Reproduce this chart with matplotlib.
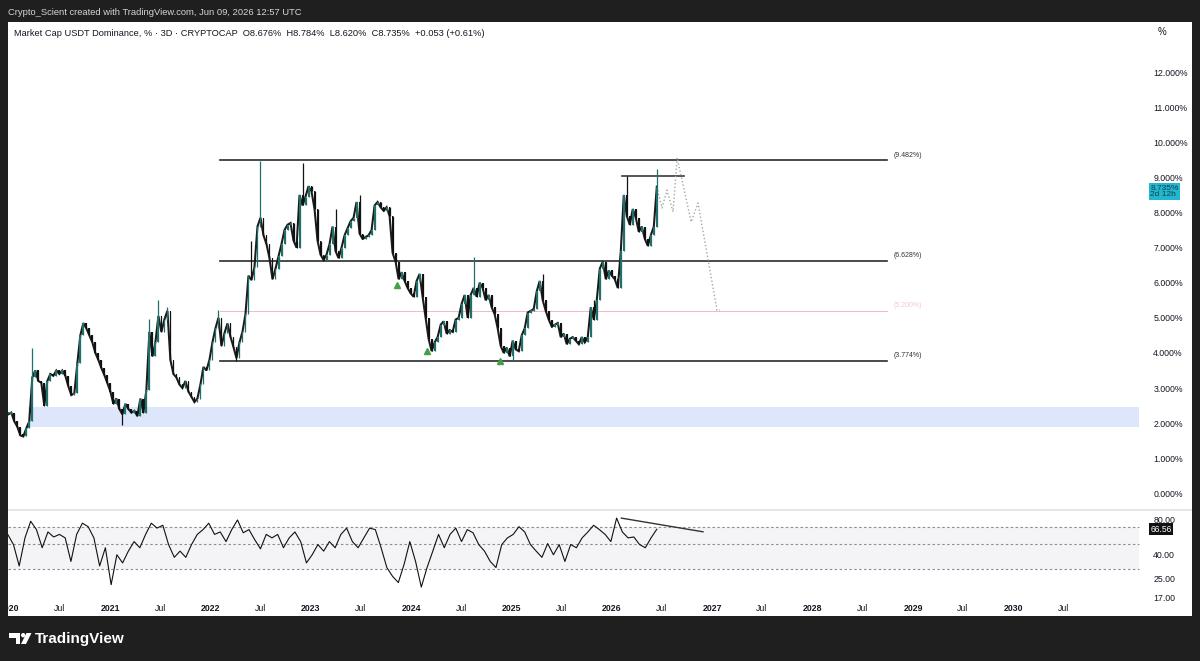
import numpy as np
import pandas as pd
import matplotlib
matplotlib.use("Agg")
import matplotlib.pyplot as plt
import matplotlib.dates as mdates
from matplotlib.patches import Rectangle, Circle, Polygon
from matplotlib.transforms import blended_transform_factory, IdentityTransform
from matplotlib.ticker import NullLocator, NullFormatter, FixedLocator, FixedFormatter

plt.rcParams['font.family'] = ['Liberation Sans', 'DejaVu Sans']

# ---------------- data ----------------
candle_start, candle_end = '2019-12-26', '2026-06-13'
close = [
    2.25, 2.3, 2.05, 1.9, 1.65, 1.62, 1.85, 2.05, 3.3, 3.5, 3.2, 3.15, 2.5, 3.2, 3.4, 3.35,
    3.5, 3.4, 3.5, 3.35, 3.05, 2.8, 2.85, 3.7, 4.5, 4.85, 4.7, 4.5, 4.3, 4.0, 3.8, 3.57,
    3.37, 3.14, 2.9, 2.55, 2.7, 2.4, 2.25, 2.55, 2.4, 2.3, 2.35, 2.2, 2.7, 2.3, 2.95, 4.6,
    3.9, 4.3, 5.05, 4.6, 4.95, 5.2, 3.8, 3.4, 3.3, 3.1, 3.0, 3.2, 2.9, 2.75, 2.6, 2.7,
    3.1, 3.6, 3.5, 3.8, 4.3, 4.7, 5.0, 4.2, 4.56, 4.84, 4.46, 4.17, 3.85, 4.3, 4.6, 5.1,
    6.2, 6.08, 6.45, 7.6, 7.85, 7.35, 7.1, 6.7, 6.1, 6.4, 6.75, 7.1, 7.5, 7.65, 7.7, 7.2,
    7.0, 8.5, 8.2, 8.45, 8.75, 8.6, 8.1, 7.2, 6.8, 6.65, 6.8, 7.1, 7.6, 6.9, 6.7, 7.0,
    7.35, 7.55, 7.75, 7.85, 8.3, 7.4, 7.25, 7.3, 7.35, 7.5, 8.2, 8.3, 8.15, 8.05, 8.15, 7.9,
    6.85, 6.6, 6.1, 6.3, 6.05, 5.85, 5.7, 5.6, 6.05, 6.25, 5.6, 5.0, 4.4, 4.05, 4.3, 4.45,
    4.8, 4.9, 4.55, 4.65, 4.6, 4.95, 5.0, 5.4, 5.65, 5.0, 5.65, 5.85, 5.6, 6.0, 5.85, 5.5,
    5.65, 5.3, 5.1, 4.7, 4.2, 4.0, 4.15, 3.9, 4.35, 4.1, 4.05, 4.5, 4.7, 5.15, 5.2, 5.25,
    5.75, 6.05, 5.5, 5.2, 4.95, 4.75, 4.8, 4.85, 4.45, 4.55, 4.25, 4.4, 4.45, 4.35, 4.25, 4.45,
    4.3, 4.45, 5.3, 4.95, 5.5, 6.4, 6.6, 6.1, 6.35, 6.2, 6.1, 5.85, 6.9, 8.5, 7.9, 7.65,
    8.1, 7.85, 7.45, 7.6, 7.25, 7.05, 7.35, 7.6, 8.735,
]
# wick extremes (date, value)
wick_dates = ['2020-03-23', '2021-02-16', '2021-05-26', '2021-06-28', '2021-07-31', '2022-02-03',
              '2022-04-10', '2022-05-24', '2022-06-26', '2022-11-27', '2023-03-28', '2023-06-24',
              '2024-08-15', '2025-01-05', '2025-04-25', '2025-10-29', '2026-02-27', '2026-06-13']
wick_values = [4.14, 1.94, 4.97, 5.5, 5.3, 5.22, 3.774, 7.2, 9.48, 9.4, 8.1, 8.5,
               6.74, 3.774, 6.25, 5.5, 9.03, 9.25]

rsi_start, rsi_end = '2019-12-24', '2026-06-13'
rsi = [60, 49, 32, 56, 78, 66, 46, 63, 57, 60, 56, 35, 60, 75, 70, 56, 32, 46, 22, 40,
       34, 43, 52, 46, 60, 75, 68, 72, 49, 38, 43, 38, 49, 60, 66, 75, 60, 63, 52, 66,
       80, 62, 66, 54, 45, 60, 56, 60, 46, 56, 63, 52, 34, 40, 49, 43, 52, 46, 60, 68,
       52, 46, 56, 68, 66, 46, 31, 26, 23, 33, 52, 35, 21, 31, 43, 60, 46, 60, 68, 52,
       66, 62, 49, 43, 35, 31, 49, 56, 60, 70, 63, 49, 43, 38, 50, 40, 49, 35, 49, 46,
       56, 63, 72, 66, 60, 52, 83, 63, 56, 57, 49, 46, 56, 66.56]

levels = [9.482, 6.628, 3.774]
level_labels = ['(9.482%)', '(6.628%)', '(3.774%)']
mid_level = 5.2
mid_label = '(5.200%)'
level_start, level_end = '2022-02-02', '2028-09-27'
zone_low, zone_high = 1.9, 2.45
zone_start, zone_end = '2020-03-08', '2031-04-04'
box_level = 9.03
box_start, box_end = '2026-02-05', '2026-09-19'
proj_dates = ['2026-06-13', '2026-07-02', '2026-07-20', '2026-08-11', '2026-08-26',
              '2026-10-16', '2026-11-10', '2027-01-18', '2027-01-29']
proj_values = [8.73, 8.13, 8.64, 8.02, 9.56, 7.73, 8.27, 5.22, 5.22]
tri_dates = ['2023-11-11', '2024-02-27', '2024-11-19']
tri_values = [5.93, 4.05, 3.78]
rsi_trend_dates = ['2026-02-04', '2026-11-28']
rsi_trend_values = [83, 63.2]
price_ticks = list(range(0, 13))
rsi_ticks = [80, 40, 25, 17]
last_value = 8.735
last_rsi = 66.56

title_text = ("Market Cap USDT Dominance, % \u00b7 3D \u00b7 CRYPTOCAP  O8.676%  H8.784%  "
              "L8.620%  C8.735%  +0.053 (+0.61%)")
header_text = "Crypto_Scient created with TradingView.com, Jun 09, 2026 12:57 UTC"

# ---------------- figure ----------------
W, H = 1200, 661
fig = plt.figure(figsize=(12, 6.61), dpi=100, facecolor='white')

def fx(px):
    return px / W

def fy(py):
    return 1 - py / H

ax = fig.add_axes([fx(8), fy(508), fx(1132), (508 - 22) / H])
ax2 = fig.add_axes([fx(8), fy(598), fx(1132), (598 - 511) / H], sharex=ax)
for a in (ax, ax2):
    a.set_facecolor('white')
    for s in a.spines.values():
        s.set_visible(False)

TEAL = '#1f6f6b'
DARK = '#111111'
TXT = '#131722'

# candles
dates = pd.date_range(candle_start, candle_end, periods=len(close))
xd = mdates.date2num(dates)
c = np.array(close, dtype=float)
o = np.r_[c[0], c[:-1]]
hi = np.maximum(o, c)
lo = np.minimum(o, c)
for d, v in zip(wick_dates, wick_values):
    i = int(np.argmin(np.abs(xd - mdates.date2num(pd.Timestamp(d)))))
    hi[i] = max(hi[i], v)
    lo[i] = min(lo[i], v)
up = c >= o
cols = np.where(up, TEAL, DARK)
step = xd[1] - xd[0]
ax.plot(xd, c, color='#1c1c1c', lw=1.5, zorder=4, solid_joinstyle='miter')
ax.vlines(xd, lo, hi, colors=cols, lw=0.9, zorder=4)
body_lo = np.minimum(o, c)
body_h = np.maximum(np.abs(c - o), 0.06)
ax.bar(xd, body_h, bottom=body_lo, width=step * 0.6, color=cols, linewidth=0, zorder=5)

# zone
z0, z1 = mdates.date2num(pd.Timestamp(zone_start)), mdates.date2num(pd.Timestamp(zone_end))
ax.add_patch(Rectangle((z0, zone_low), z1 - z0, zone_high - zone_low, facecolor='#dde6fb',
                       edgecolor='none', zorder=1))

# levels
l0, l1 = pd.Timestamp(level_start), pd.Timestamp(level_end)
for lv, lab in zip(levels, level_labels):
    ax.plot([l0, l1], [lv, lv], color='#2b2b2b', lw=1.2, zorder=3)
    ax.annotate(lab, (l1, lv), xytext=(5, 3.5), textcoords='offset points', fontsize=5,
                color='#333333', va='center', ha='left')
ax.plot([l0, l1], [mid_level, mid_level], color='#f5b8bd', lw=0.7, zorder=2)
ax.annotate(mid_label, (l1, mid_level), xytext=(5, 3.5), textcoords='offset points', fontsize=5,
            color='#f7c9cc', va='center', ha='left')

# box line at top
ax.plot([pd.Timestamp(box_start), pd.Timestamp(box_end)], [box_level, box_level],
        color='#3a3a3a', lw=1.2, zorder=3)

# projection
ax.plot(pd.to_datetime(proj_dates), proj_values, color='#a6a6a6', lw=1.0,
        linestyle=(0, (1, 1.6)), zorder=3)

# triangles
ax.plot(pd.to_datetime(tri_dates), tri_values, linestyle='none', marker='^', markersize=5,
        color='#43a047', zorder=6)

ax.set_ylim((493.3 - 508) / 35.1, (493.3 - 22) / 35.1)
ax.set_xlim(pd.Timestamp('2019-12-25'), pd.Timestamp('2031-04-07'))

ax.yaxis.tick_right()
ax.set_yticks(price_ticks)
ax.set_yticklabels([f"{v:.3f}%" for v in price_ticks])
ax.tick_params(axis='y', length=0, pad=9.5, labelsize=6.3, labelcolor=TXT)
ax.tick_params(axis='x', length=0, labelbottom=False)

bl = blended_transform_factory(ax.transAxes, ax.transData)
box_center = (493.3 - 191.5) / 35.1
ax.text(1 + 10.5 / 1132, box_center, f"{last_value:.3f}%\n2d 12h", transform=bl,
        fontsize=6.0, color='#0e3f4a', va='center', ha='left', linespacing=1.0,
        bbox=dict(boxstyle='square,pad=0.17', fc='#22b6cf', ec='none'))

# title
ax.text(6 / 1132, (493.3 - 33) / 35.1, title_text, transform=bl, fontsize=6.65, color=TXT,
        va='center', ha='left')

# ---------------- RSI ----------------
ax2.set_yscale('log')
ax2.set_ylim(16.9, 80 * np.exp(9 / 50.4))
r0, r1 = mdates.date2num(pd.Timestamp('2019-12-25')), mdates.date2num(pd.Timestamp('2031-04-04'))
ax2.add_patch(Rectangle((r0, 30), r1 - r0, 40, facecolor='#f4f4f6', edgecolor='none', zorder=0))
for lv in (70, 50, 30):
    ax2.plot([r0, r1], [lv, lv], color='#8a8d94', lw=0.8, linestyle=(0, (2.2, 2.2)), zorder=1)
rdates = pd.date_range(rsi_start, rsi_end, periods=len(rsi))
ax2.plot(rdates, rsi, color='#111111', lw=0.8, zorder=3)
ax2.plot(pd.to_datetime(rsi_trend_dates), rsi_trend_values, color='#333333', lw=1.0, zorder=3)

ax2.yaxis.tick_right()
ax2.yaxis.set_major_locator(FixedLocator(rsi_ticks))
ax2.yaxis.set_major_formatter(FixedFormatter([f"{v:.2f}" for v in rsi_ticks]))
ax2.yaxis.set_minor_locator(NullLocator())
ax2.yaxis.set_minor_formatter(NullFormatter())
ax2.tick_params(axis='y', length=0, pad=9.5, labelsize=6.3, labelcolor=TXT)
bl2 = blended_transform_factory(ax2.transAxes, ax2.transData)
ax2.text(1 + 10.5 / 1132, last_rsi, f"{last_rsi:.2f}", transform=bl2, fontsize=6.2,
         color='white', va='center', ha='left',
         bbox=dict(boxstyle='square,pad=0.18', fc='#111111', ec='none'))

# time ticks
tick_dates, tick_labels, tick_bold = [], [], []
for yr in range(2020, 2031):
    tick_dates += [pd.Timestamp(f'{yr}-01-01'), pd.Timestamp(f'{yr}-07-01')]
    tick_labels += [str(yr), 'Jul']
    tick_bold += [True, False]
ax2.set_xticks(tick_dates)
ax2.set_xticklabels(tick_labels)
ax2.tick_params(axis='x', length=0, pad=4, labelsize=6.3, labelcolor=TXT)
for lbl, b in zip(ax2.get_xticklabels(), tick_bold):
    lbl.set_fontweight('bold' if b else 'normal')

# pane separator
fig.add_artist(Rectangle((fx(8), fy(511)), fx(1184), 2.5 / H, transform=fig.transFigure,
                         facecolor='#e3e5ea', edgecolor='none', zorder=2))

# "%" label
fig.text(fx(1158), fy(32), '%', fontsize=7, color=TXT, va='center', ha='left')

# ---------------- dark frame ----------------
FR = '#1f1f1f'
for (x0, y0, w, h) in [(0, 0, 8, H), (1192, 0, 8, H), (0, 0, W, 22), (0, 616, W, H - 616)]:
    fig.add_artist(Rectangle((fx(x0), fy(y0 + h)), fx(w), h / H, transform=fig.transFigure,
                             facecolor=FR, edgecolor='none', zorder=10))

fig.text(fx(8), fy(12.5), header_text, fontsize=6.75, color='#d6d6d6', va='center', ha='left',
         zorder=11)

# TradingView logo
idt = IdentityTransform()
def P(x, y):
    return (x, H - y)
logo_parts = [
    Polygon([P(9, 633), P(20, 633), P(20, 644), P(15.5, 644), P(15.5, 637.5), P(9, 637.5)],
            closed=True),
    Circle(P(23.2, 635.2), 2.2),
    Polygon([P(26.5, 633), P(31.5, 633), P(26, 644), P(21, 644)], closed=True),
]
for part in logo_parts:
    part.set_transform(idt)
    part.set_facecolor('white')
    part.set_edgecolor('none')
    part.set_zorder(12)
    fig.add_artist(part)
fig.text(fx(35), fy(639), 'TradingView', fontsize=11, color='white', fontweight='bold',
         va='center', ha='left', zorder=12)

fig.savefig('out.png', dpi=100, facecolor=fig.get_facecolor())
